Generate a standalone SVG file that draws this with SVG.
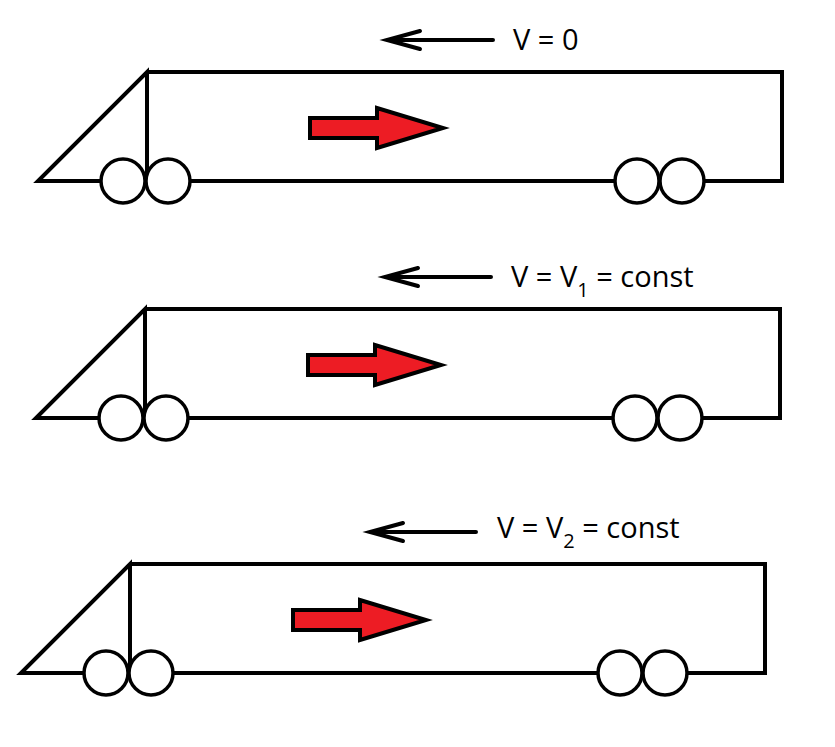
<svg xmlns="http://www.w3.org/2000/svg" width="835" height="747" viewBox="0 0 835 747">
<style>
.l{fill:none;stroke:#000;stroke-width:4;stroke-linejoin:miter}
.w{fill:#fff;stroke:#000;stroke-width:3.5}
.r{fill:#ed1c24;stroke:#000;stroke-width:4;stroke-linejoin:miter}
.t{font-family:"Open Sans","Liberation Sans",sans-serif;font-size:29px;fill:#000}
.s{font-size:20px}
</style>
<rect width="835" height="747" fill="#fff"/>
<defs>
<g id="train">
<path class="l" d="M0,0 H635 V109 H-109 L0,0 V109"/>
<circle class="w" cx="-24" cy="109" r="22"/><circle class="w" cx="21" cy="109" r="22"/>
<circle class="w" cx="490" cy="109" r="22"/><circle class="w" cx="535" cy="109" r="22"/>
<path class="r" d="M163,46 H230 V36 L296,56 L230,76 V66 H163 Z"/>
<path class="l" d="M240,-32 H346 M273,-41 L240,-32 L273,-23" stroke-linecap="round"/>
</g>
</defs>
<g id="train1" transform="translate(147,72)"><use href="#train"/></g>
<g id="train2" transform="translate(145,309)"><use href="#train"/></g>
<g id="train3" transform="translate(130,564)"><use href="#train"/></g>
<g id="labels">
<text class="t" x="513" y="50">V = 0</text>
<text class="t" x="511" y="287">V = V<tspan class="s" dy="10">1</tspan><tspan dy="-10"> = const</tspan></text>
<text class="t" x="497" y="538">V = V<tspan class="s" dy="10">2</tspan><tspan dy="-10"> = const</tspan></text>
</g>
</svg>
